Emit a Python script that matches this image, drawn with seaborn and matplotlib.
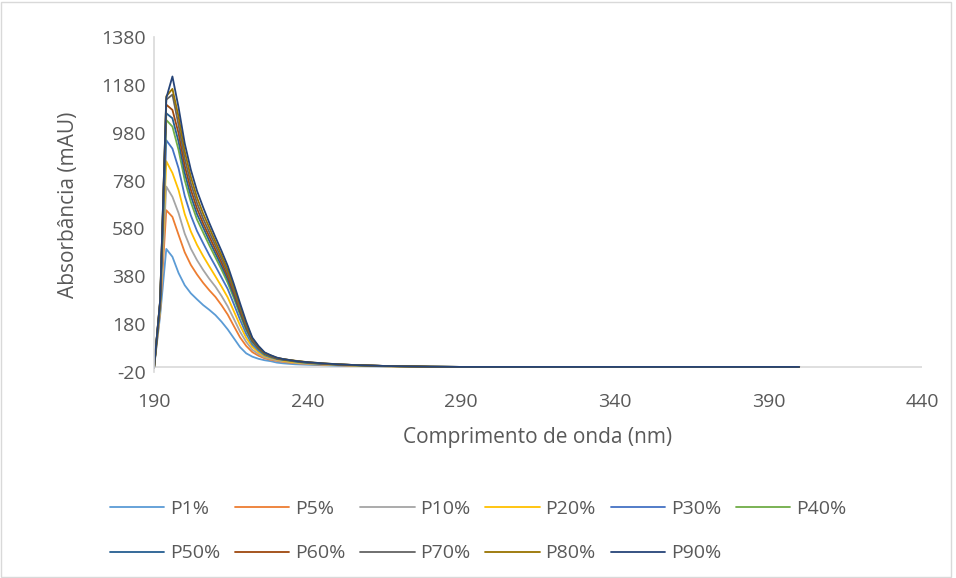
import matplotlib
matplotlib.use("Agg")
import matplotlib.pyplot as plt
import seaborn as sns
import pandas as pd
from matplotlib.patches import Rectangle

wavelength = [190, 192, 194, 196, 198, 200, 202, 204, 206, 208, 210, 212, 214,
              216, 218, 220, 222, 224, 226, 228, 230, 232, 234, 236, 238, 240,
              245, 250, 255, 260, 265, 270, 275, 280, 290, 300, 320, 340, 360, 380, 400]

p1 = [-5, 215, 494, 461, 393, 342, 308, 283, 259, 239, 217, 189, 157, 120, 83, 57, 43, 34, 28, 24, 18, 15, 13, 11, 10, 9,
      7, 5, 4, 3, 2, 1, 0, 0, 0, 0, 0, 0, 0, 0, 0]
p5 = [-5, 232, 656, 628, 553, 480, 427, 387, 352, 321, 293, 258, 219, 171, 124, 88, 62, 47, 36, 30, 25, 21, 18, 16, 14, 12,
      9, 7, 5, 4, 3, 2, 1, 0, 0, 0, 0, 0, 0, 0, 0]
p10 = [-5, 242, 755, 712, 644, 558, 495, 447, 406, 369, 336, 297, 253, 201, 148, 105, 72, 54, 40, 33, 27, 23, 20, 17, 15, 13,
       10, 8, 6, 4, 3, 2, 1, 0, 0, 0, 0, 0, 0, 0, 0]
p20 = [-5, 249, 861, 812, 740, 640, 567, 511, 464, 421, 379, 336, 291, 233, 174, 122, 84, 62, 45, 37, 31, 26, 22, 19, 17, 15,
       11, 8, 6, 5, 3, 2, 1, 0, 0, 0, 0, 0, 0, 0, 0]
p30 = [-5, 257, 949, 914, 831, 716, 634, 569, 518, 468, 422, 374, 326, 263, 198, 139, 94, 69, 49, 40, 33, 29, 26, 22, 19, 16,
       12, 9, 7, 5, 4, 3, 2, 1, 0, 0, 0, 0, 0, 0, 0]
p40 = [-5, 265, 1034, 1006, 908, 782, 690, 617, 563, 509, 458, 407, 352, 288, 219, 154, 103, 75, 52, 43, 35, 31, 27, 23, 20, 17,
       13, 10, 7, 5, 4, 3, 2, 1, 0, 0, 0, 0, 0, 0, 0]
p50 = [-5, 269, 1062, 1041, 943, 812, 716, 640, 584, 528, 475, 422, 366, 299, 228, 161, 107, 77, 54, 44, 35, 31, 28, 24, 21, 18,
       13, 10, 8, 6, 4, 3, 2, 1, 0, 0, 0, 0, 0, 0, 0]
p60 = [-5, 273, 1098, 1076, 978, 842, 742, 663, 601, 546, 491, 437, 379, 311, 237, 168, 111, 80, 56, 45, 36, 32, 28, 25, 22, 19,
       14, 10, 8, 6, 4, 3, 2, 1, 0, 0, 0, 0, 0, 0, 0]
p70 = [-5, 276, 1119, 1140, 1012, 872, 768, 686, 621, 564, 508, 452, 393, 322, 247, 174, 115, 83, 57, 46, 37, 33, 29, 25, 22, 19,
       14, 11, 8, 6, 4, 3, 2, 1, 0, 0, 0, 0, 0, 0, 0]
p80 = [-5, 278, 1133, 1164, 1047, 902, 795, 709, 642, 583, 524, 467, 406, 333, 256, 181, 119, 86, 59, 48, 38, 33, 29, 26, 23, 20,
       15, 11, 8, 6, 4, 3, 2, 1, 0, 0, 0, 0, 0, 0, 0]
p90 = [-5, 280, 1126, 1216, 1086, 936, 825, 737, 668, 603, 543, 485, 423, 347, 267, 190, 123, 88, 61, 49, 39, 33, 29, 25, 22, 20,
       15, 11, 8, 6, 4, 3, 2, 1, 0, 0, 0, 0, 0, 0, 0]

series_names = ["P1%", "P5%", "P10%", "P20%", "P30%", "P40%",
                "P50%", "P60%", "P70%", "P80%", "P90%"]
series_values = [p1, p5, p10, p20, p30, p40, p50, p60, p70, p80, p90]
colors = ["#5B9BD5", "#ED7D31", "#A5A5A5", "#FFC000", "#4472C4", "#70AD47",
          "#255E91", "#9E480E", "#636363", "#997300", "#264478"]

x_ticks = [190, 240, 290, 340, 390, 440]
y_ticks = [-20, 180, 380, 580, 780, 980, 1180, 1380]

rows = []
for name, vals in zip(series_names, series_values):
    for w, v in zip(wavelength, vals):
        rows.append({"wl": w, "abs": v, "serie": name})
df = pd.DataFrame(rows)

sns.set_theme(style="white")
plt.rcParams["font.family"] = ["Open Sans", "DejaVu Sans"]
plt.rcParams["axes.unicode_minus"] = False

W, H = 956, 578
fig = plt.figure(figsize=(W / 100, H / 100), dpi=100)
left, right, top, bottom = 154, 922, 37.3, 371.7
ax = fig.add_axes([left / W, 1 - bottom / H, (right - left) / W, (bottom - top) / H])

sns.lineplot(data=df, x="wl", y="abs", hue="serie", hue_order=series_names,
             palette=colors, estimator=None, sort=False, linewidth=1.3, ax=ax)

ax.set_xlim(190, 440)
ax.set_ylim(-20, 1380)
ax.set_xticks(x_ticks)
ax.set_yticks(y_ticks)
ax.tick_params(axis="both", length=0, labelsize=14, colors="#595959")
ax.tick_params(axis="x", pad=15)
ax.tick_params(axis="y", pad=6)

for s in ["top", "right", "bottom"]:
    ax.spines[s].set_visible(False)
ax.spines["left"].set_color("#D9D9D9")
ax.spines["left"].set_linewidth(1.2)
ax.axhline(0, color="#D9D9D9", lw=1.2, zorder=0.5)

ax.set_xlabel("Comprimento de onda (nm)", fontsize=15, color="#595959")
ax.set_ylabel("Absorbância (mAU)", fontsize=15, color="#595959")
ax.xaxis.set_label_coords(0.5, (bottom - 437) / (bottom - top))
ax.xaxis.label.set_va("center")
ax.yaxis.set_label_coords((68 - left) / (right - left), 0.5)
ax.yaxis.label.set_va("center")

# legend: row-wise order (matplotlib fills columns first)
handles, labels = ax.get_legend_handles_labels()
hmap = dict(zip(labels, handles))
order = ["P1%", "P50%", "P5%", "P60%", "P10%", "P70%", "P20%", "P80%", "P30%", "P90%", "P40%"]
ax.get_legend().remove()
leg = ax.legend([hmap[k] for k in order], order, loc="upper center",
                bbox_to_anchor=(0.5, 1 - 500 / H), bbox_transform=fig.transFigure,
                ncol=6, frameon=False, fontsize=14, handlelength=2.8, handletextpad=0.3,
                columnspacing=0.75, labelspacing=1.36, borderpad=0, borderaxespad=0)
for t in leg.get_texts():
    t.set_color("#595959")

fig.patches.append(Rectangle((1 / W, 1 / H), 950 / W, 575 / H, transform=fig.transFigure,
                             fill=False, edgecolor="#D9D9D9", lw=1))

fig.savefig("out.png", dpi=100)
